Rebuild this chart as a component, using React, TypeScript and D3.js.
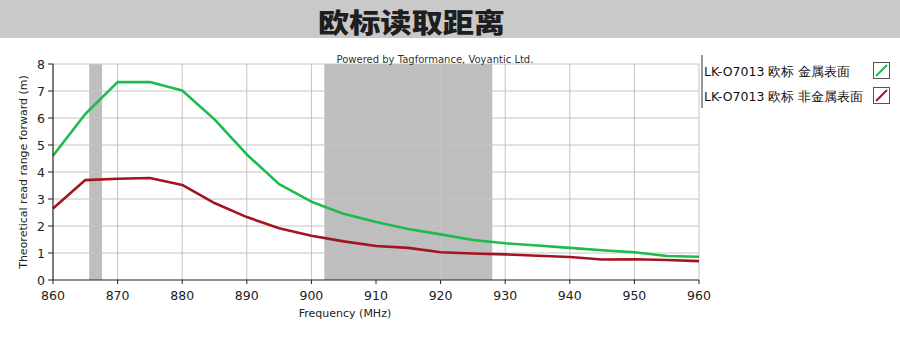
import React from "react";
import * as d3 from "d3";

const freqs = [860, 865, 870, 875, 880, 885, 890, 895, 900, 905, 910, 915, 920, 925, 930, 935, 940, 945, 950, 955, 960];
const metalRange = [4.6, 6.15, 7.33, 7.33, 7.02, 5.95, 4.65, 3.55, 2.9, 2.45, 2.15, 1.89, 1.69, 1.48, 1.36, 1.28, 1.19, 1.1, 1.03, 0.89, 0.86];
const nonMetalRange = [2.65, 3.7, 3.75, 3.78, 3.52, 2.85, 2.33, 1.92, 1.64, 1.43, 1.26, 1.19, 1.03, 0.98, 0.95, 0.9, 0.85, 0.76, 0.77, 0.74, 0.7];
const bands: [number, number][] = [[865.6, 867.6], [902, 928]];
const xTicks = [860, 870, 880, 890, 900, 910, 920, 930, 940, 950, 960];
const yTicks = [0, 1, 2, 3, 4, 5, 6, 7, 8];
const legendNames = ["LK-O7013 欧标 金属表面", "LK-O7013 欧标 非金属表面"];
const seriesColors = ["#1dbb4c", "#a3141e"];

export default function App() {
  const W = 900, H = 355;
  const x = d3.scaleLinear().domain([860, 960]).range([53, 699]);
  const y = d3.scaleLinear().domain([0, 8]).range([280, 64]);
  const line = d3.line<number>().x((_, i) => x(freqs[i])).y((d) => y(d));
  const font = "Tahoma, 'DejaVu Sans', sans-serif";
  const series = [metalRange, nonMetalRange];
  return (
    <div style={{ position: "absolute", left: 0, top: 0 }}>
      <svg width={W} height={H} style={{ display: "block", background: "#fff" }}>
        <rect x={0} y={0} width={W} height={38} fill="#c9c9c9" />
        <text x={318} y={33} textLength={187} lengthAdjust="spacingAndGlyphs" fontFamily="'Noto Sans CJK SC'" fontWeight={900} fontSize={27} fill="#1e1e1e">欧标读取距离</text>
        {bands.map((b, i) => (
          <rect key={i} x={x(b[0])} y={y(8)} width={x(b[1]) - x(b[0])} height={y(0) - y(8)} fill="#bebebe" />
        ))}
        {xTicks.slice(1).map((t) => (
          <line key={"gx" + t} x1={x(t)} x2={x(t)} y1={y(8)} y2={y(0)} stroke="#c4c4c4" strokeWidth={1} />
        ))}
        {yTicks.slice(1).map((t) => (
          <line key={"gy" + t} x1={x(860)} x2={x(960)} y1={y(t)} y2={y(t)} stroke="#c4c4c4" strokeWidth={1} />
        ))}
        <text x={435} y={63} textAnchor="middle" fontFamily={font} fontSize={10} fill="#333">Powered by Tagformance, Voyantic Ltd.</text>
        {series.map((s, i) => (
          <path key={i} d={line(s) || ""} fill="none" stroke={seriesColors[i]} strokeWidth={2.6} strokeLinejoin="round" />
        ))}
        <line x1={x(860)} x2={x(860)} y1={y(8)} y2={y(0)} stroke="#222" strokeWidth={1.2} />
        <line x1={x(860)} x2={x(960)} y1={y(0)} y2={y(0)} stroke="#222" strokeWidth={1.2} />
        {yTicks.map((t) => (
          <g key={"ty" + t}>
            <line x1={x(860) - 5} x2={x(860)} y1={y(t)} y2={y(t)} stroke="#222" />
            <text x={x(860) - 8} y={y(t) + 4.5} textAnchor="end" fontFamily={font} fontSize={12.5} fill="#222">{t}</text>
          </g>
        ))}
        {xTicks.map((t) => (
          <g key={"tx" + t}>
            <line x1={x(t)} x2={x(t)} y1={y(0)} y2={y(0) + 4} stroke="#222" />
            <text x={x(t)} y={y(0) + 20} textAnchor="middle" fontFamily={font} fontSize={12.5} fill="#222">{t}</text>
          </g>
        ))}
        <text x={345} y={317} textAnchor="middle" fontFamily={font} fontSize={11} fill="#222">Frequency (MHz)</text>
        <text transform={`translate(27,${y(4)}) rotate(-90)`} textAnchor="middle" fontFamily={font} fontSize={11} fill="#222">Theoretical read range forward (m)</text>
        <line x1={702} x2={702} y1={55} y2={108} stroke="#333" strokeWidth={1} />
        {legendNames.map((n, i) => (
          <g key={"lg" + i}>
            <text x={704} y={76 + i * 25} fontFamily={font} fontSize={12.5} fill="#111">{n}</text>
            <rect x={873.5} y={62.5 + i * 25} width={16} height={16} fill="#fff" stroke="#555" />
            <line x1={876} x2={887} y1={76 + i * 25} y2={65 + i * 25} stroke={seriesColors[i]} strokeWidth={2} />
          </g>
        ))}
      </svg>
    </div>
  );
}
